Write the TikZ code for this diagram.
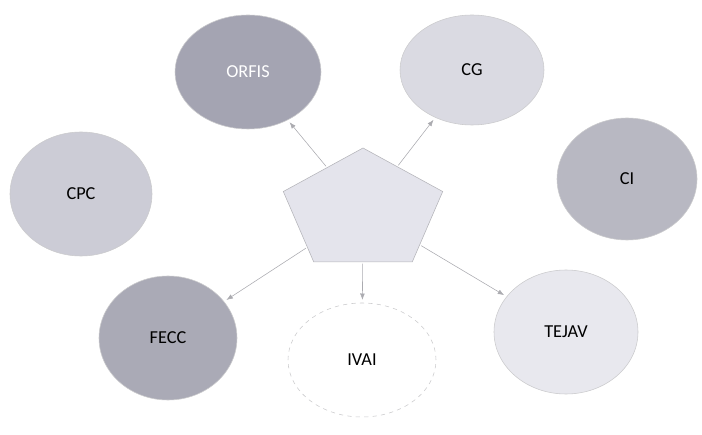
\documentclass[tikz,border=0pt]{standalone}
\usepackage{fontspec}
\setmainfont{Carlito}
\usetikzlibrary{arrows.meta,shapes.geometric}
\definecolor{orGray}{RGB}{164,164,178}
\definecolor{cgGray}{RGB}{218,218,226}
\definecolor{cpcGray}{RGB}{204,204,214}
\definecolor{ciGray}{RGB}{184,184,194}
\definecolor{feGray}{RGB}{170,170,182}
\definecolor{teGray}{RGB}{232,232,238}
\definecolor{pnGray}{RGB}{228,228,236}
\definecolor{lnGray}{RGB}{150,150,156}

\begin{document}
\begin{tikzpicture}[
      blob/.style={ellipse,draw=lnGray!50,font=\fontsize{13}{15}\selectfont},
      pent/.style={regular polygon,regular polygon sides=5,minimum size=3.15cm,
        inner sep=0pt,fill=pnGray,draw=lnGray!70,xscale=1.33,transform shape},
      link/.style={lnGray!80,thin,shorten <=1pt,shorten >=2pt,-{Latex[length=1.6mm,width=1.2mm]}}]
    \useasboundingbox (0,0) rectangle (17.55,10.85);
    \node[pent] (hub) at (9.075,5.575) {};
    \foreach \id/\x/\y/\w/\h/\col/\txt in {
        orfis/6.2/9.05/3.65/2.85/orGray/\textcolor{white}{ORFIS},
        cg/11.8/9.1/3.6/2.75/cgGray/CG,
        cpc/2.025/6.0/3.55/3.1/cpcGray/CPC,
        ci/15.675/6.375/3.5/3.05/ciGray/CI,
        fecc/4.2/2.4/3.45/3.1/feGray/FECC,
        tejav/14.15/2.55/3.6/3.1/teGray/TEJAV} {
      \node[blob,fill=\col,minimum width=\w cm,minimum height=\h cm] (\id) at (\x,\y) {\txt};
    }
    \node[blob,fill=white,dashed,minimum width=3.7cm,minimum height=2.85cm] (ivai) at (9.05,1.85) {IVAI};
    \foreach \id in {orfis,cg,fecc,ivai,tejav}
      \draw[link] (hub) -- (\id);
  \end{tikzpicture}
\end{document}
